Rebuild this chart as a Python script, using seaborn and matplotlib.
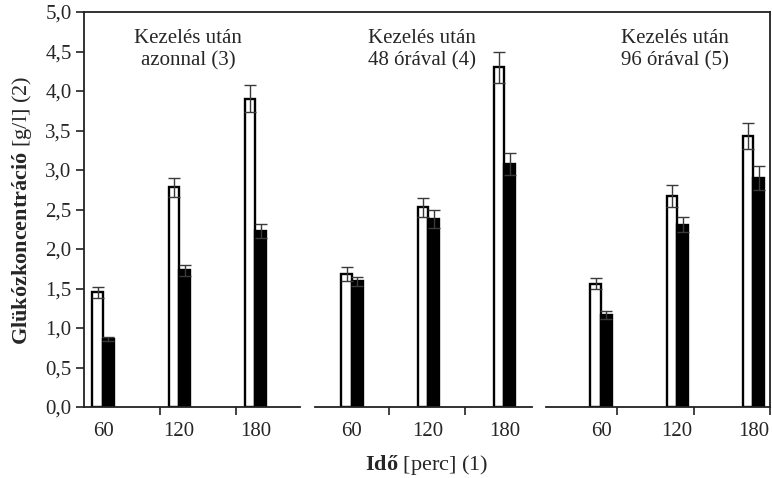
import numpy as np
import pandas as pd
import matplotlib
matplotlib.use("Agg")
import matplotlib.pyplot as plt
import seaborn as sns

# Values
panels = ["Kezelés után\nazonnal (3)", "Kezelés után\n48 órával (4)", "Kezelés után\n96 órával (5)"]
times = ["60", "120", "180"]
groups = ["open", "filled"]

open_vals = [[1.45, 2.78, 3.90], [1.68, 2.53, 4.30], [1.56, 2.67, 3.43]]
open_err = [[0.07, 0.12, 0.17], [0.09, 0.12, 0.20], [0.07, 0.14, 0.16]]
filled_vals = [[0.86, 1.73, 2.23], [1.59, 2.38, 3.08], [1.16, 2.31, 2.90]]
filled_err = [[0.02, 0.07, 0.09], [0.06, 0.11, 0.14], [0.05, 0.10, 0.15]]

y_ticks = [0.0, 0.5, 1.0, 1.5, 2.0, 2.5, 3.0, 3.5, 4.0, 4.5, 5.0]

# Build long-form table
rows = []
for p, name in enumerate(panels):
    for t, tm in enumerate(times):
        rows.append({"panel": p, "time": tm, "group": "open",
                     "value": open_vals[p][t], "err": open_err[p][t]})
        rows.append({"panel": p, "time": tm, "group": "filled",
                     "value": filled_vals[p][t], "err": filled_err[p][t]})
df = pd.DataFrame(rows)

sns.set_style("ticks")
plt.rcParams["font.family"] = ["Liberation Serif", "DejaVu Serif"]
plt.rcParams["mathtext.fontset"] = "custom"
plt.rcParams["mathtext.rm"] = "Liberation Serif"
plt.rcParams["mathtext.bf"] = "Liberation Serif:bold"

FS = 15
W, H = 772, 478
fig = plt.figure(figsize=(W / 100, H / 100), dpi=100)

# pixel layout: y of 0.0 and 5.0, px per category unit
y0_px, y5_px = 407, 12
unit = 76.2
bottom = (H - y0_px) / H
height = (y0_px - y5_px) / H

# (left px, right px, centre px of first group, tick px, title centre px)
layout = [
    (84, 300, 103, [160, 236], 188),
    (315, 532, 352, [389, 465], 422),
    (546, 770, 601, [617, 694, 770], 675),
]

# frame behind the panels (top, left, right lines)
frame = fig.add_axes([84 / W, bottom, (770 - 84) / W, height])
frame.set_xlim(0, 1)
frame.set_ylim(0, 5)
frame.set_xticks([])
frame.set_yticks([])
frame.patch.set_alpha(0)
for side in ["top", "left", "right"]:
    frame.spines[side].set_linewidth(1.3)
    frame.spines[side].set_color("#222222")
frame.spines["bottom"].set_visible(False)

for p, (lpx, rpx, cpx, tick_px, title_px) in enumerate(layout):
    ax = fig.add_axes([lpx / W, bottom, (rpx - lpx) / W, height])
    ax.patch.set_alpha(0)
    sub = df[df["panel"] == p]
    sns.barplot(data=sub, x="time", y="value", hue="group", order=times,
                hue_order=groups, palette={"open": "white", "filled": "black"},
                edgecolor="black", linewidth=1.7, width=0.28, errorbar=None,
                legend=False, ax=ax)
    for cont, g in zip(ax.containers, groups):
        errs = sub[sub["group"] == g]["err"].to_numpy()
        xs = [b.get_x() + b.get_width() / 2 for b in cont]
        hs = [b.get_height() for b in cont]
        ax.errorbar(xs, hs, yerr=errs, fmt="none", ecolor="#3a3a3a",
                    elinewidth=1.0, capsize=4.5, capthick=1.0, zorder=5)

    ax.set_xlim((lpx - cpx) / unit, (rpx - cpx) / unit)
    ax.set_ylim(0, 5)
    ax.set_xlabel("")
    ax.set_ylabel("")

    # boundary tick marks (major) and centred labels (minor)
    ax.set_xticks([(t - cpx) / unit for t in tick_px])
    ax.set_xticklabels([])
    ax.set_xticks([0, 1, 2], minor=True)
    ax.set_xticklabels(times, minor=True, fontsize=FS)
    ax.tick_params(axis="x", which="major", direction="out", length=6, width=1.2, color="#222222")
    ax.tick_params(axis="x", which="minor", length=0, pad=11)

    for side in ["top", "right", "left"]:
        ax.spines[side].set_visible(False)
    ax.spines["bottom"].set_linewidth(1.3)
    ax.spines["bottom"].set_color("#222222")

    if p == 0:
        ax.set_yticks(y_ticks)
        ax.set_yticklabels([f"{v:.1f}".replace(".", ",") for v in y_ticks], fontsize=FS)
        ax.tick_params(axis="y", direction="out", length=6, width=1.2, color="#222222", pad=3)
    else:
        ax.set_yticks([])

    ax.text((title_px - cpx) / unit, 4.52, panels[p], ha="center", va="center",
            fontsize=FS, linespacing=1.2)

fig.text(22 / W, 1 - 210 / H, r"$\mathbf{Glükózkoncentráció}$ [g/l] (2)",
         rotation=90, ha="center", va="center", fontsize=16)
fig.text(427 / W, 1 - 465 / H, r"$\mathbf{Idő}$ [perc] (1)",
         ha="center", va="center", fontsize=16)

fig.savefig("out.png", dpi=100)
